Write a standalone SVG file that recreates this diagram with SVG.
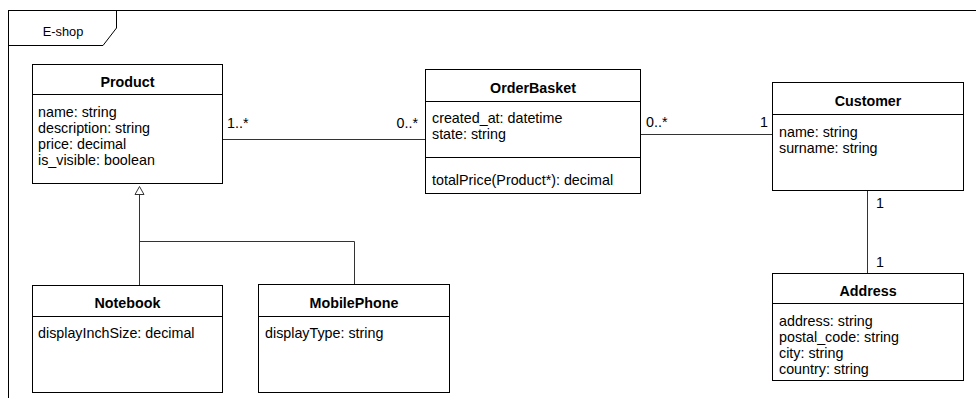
<svg xmlns="http://www.w3.org/2000/svg" width="976" height="398" viewBox="0 0 976 398">
<style>
text{font-family:"Liberation Sans",Arial,sans-serif;font-size:14.3px;fill:#000}
.t{font-weight:bold;text-anchor:middle}
.box{fill:#fff;stroke:#000;stroke-width:1}
.div{stroke:#000;stroke-width:1}
.con{fill:none;stroke:#333;stroke-width:1}
.fr{font-size:12.8px;text-anchor:middle}
</style>
<rect width="976" height="398" fill="#fff"/>
<g id="frame">
<rect x="8.5" y="10.5" width="1000" height="500" fill="none" stroke="#000"/>
<path d="M8.5 45.5 H103 L116.5 28 V10.5" fill="none" stroke="#000"/>
<text class="fr" x="63" y="36">E-shop</text>
</g>
<g id="connectors">
<path class="con" d="M222.5 139.5 H425.5"/>
<path class="con" d="M640.5 134.5 H772.5"/>
<path class="con" d="M867.5 190.5 V273.5"/>
<path class="con" d="M139.5 195 V285.5"/>
<path class="con" d="M139.5 241.5 H354.5 V284.5"/>
<path d="M139.5 186.5 L135 194.5 H144 Z" fill="#fff" stroke="#333"/>
<text x="227" y="128">1..*</text>
<text x="418" y="128" text-anchor="end">0..*</text>
<text x="646" y="127">0..*</text>
<text x="760" y="127">1</text>
<text x="876" y="208">1</text>
<text x="876" y="267">1</text>
</g>
<g id="Product">
<rect class="box" x="32.5" y="64.5" width="190" height="119"/>
<line class="div" x1="32.5" y1="94.5" x2="222.5" y2="94.5"/>
<text class="t" x="127.5" y="87">Product</text>
<text x="38" y="117">name: string</text>
<text x="38" y="133">description: string</text>
<text x="38" y="149">price: decimal</text>
<text x="38" y="165">is_visible: boolean</text>
</g>
<g id="OrderBasket">
<rect class="box" x="425.5" y="69.5" width="215" height="124"/>
<line class="div" x1="425.5" y1="101.5" x2="640.5" y2="101.5"/>
<line class="div" x1="425.5" y1="157.5" x2="640.5" y2="157.5"/>
<text class="t" x="533" y="93">OrderBasket</text>
<text x="432" y="123">created_at: datetime</text>
<text x="432" y="139">state: string</text>
<text x="432" y="185">totalPrice(Product*): decimal</text>
</g>
<g id="Customer">
<rect class="box" x="772.5" y="82.5" width="191" height="108"/>
<line class="div" x1="772.5" y1="114.5" x2="963.5" y2="114.5"/>
<text class="t" x="868" y="106">Customer</text>
<text x="779" y="137">name: string</text>
<text x="779" y="153">surname: string</text>
</g>
<g id="Address">
<rect class="box" x="772.5" y="273.5" width="191" height="107"/>
<line class="div" x1="772.5" y1="303.5" x2="963.5" y2="303.5"/>
<text class="t" x="868" y="296">Address</text>
<text x="779" y="326">address: string</text>
<text x="779" y="342">postal_code: string</text>
<text x="779" y="358">city: string</text>
<text x="779" y="374">country: string</text>
</g>
<g id="Notebook">
<rect class="box" x="32.5" y="285.5" width="190" height="107"/>
<line class="div" x1="32.5" y1="316.5" x2="222.5" y2="316.5"/>
<text class="t" x="127.5" y="308">Notebook</text>
<text x="38" y="338">displayInchSize: decimal</text>
</g>
<g id="MobilePhone">
<rect class="box" x="258.5" y="284.5" width="191" height="108"/>
<line class="div" x1="258.5" y1="316.5" x2="449.5" y2="316.5"/>
<text class="t" x="354" y="308">MobilePhone</text>
<text x="265" y="338">displayType: string</text>
</g>
</svg>
